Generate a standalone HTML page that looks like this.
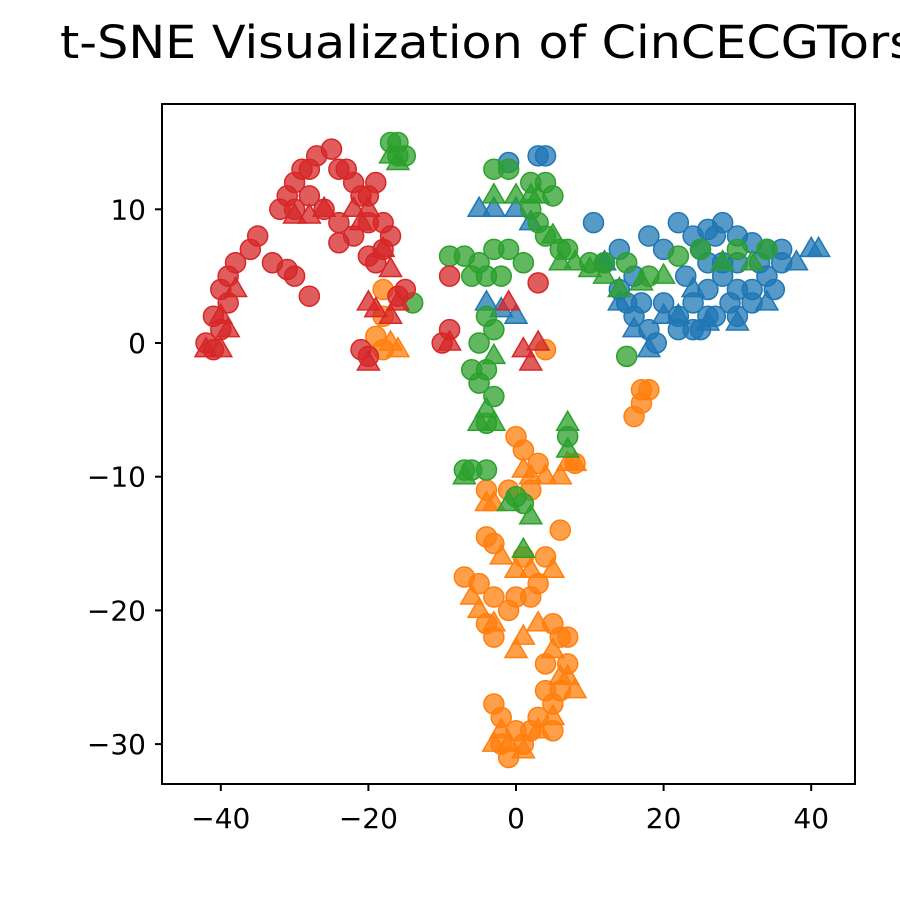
<!DOCTYPE html>
<html><head><meta charset="utf-8"><style>
body{margin:0;background:#fff}
svg{display:block;font-family:"DejaVu Sans","Liberation Sans",sans-serif}
</style></head><body>
<svg id="chart" width="900" height="900" viewBox="0 0 900 900">
<rect width="900" height="900" fill="#fff"/>
<text x="60" y="58" font-size="45" textLength="885" lengthAdjust="spacingAndGlyphs" fill="#000">t-SNE Visualization of CinCECGTorso</text>
<g id="marks"></g>
<rect x="162" y="104" width="693" height="680" fill="none" stroke="#000" stroke-width="2"/>
<g id="axes"></g>
</svg>
<script>
const xTicks=[-40,-20,0,20,40];
const yTicks=[10,0,-10,-20,-30];
const classColors=["#1f77b4","#ff7f0e","#2ca02c","#d62728"];
const blueCircles=[[-1,13.5],[3,14],[4,14],[10.5,9],[18,8],[20,7],[22,9],[24,8],[25,7],[26,8.5],[27,8],[28,9],[30,8],[32,7.5],[34,7],[36,7],[22,2],[24,3],[26,4],[28,5],[30,4],[32,4],[34,5],[25,1],[27,2],[29,3],[14,4],[15,3],[16,2],[18,1],[19,0],[12,6],[14,7],[20,3],[23,5],[26,6],[28,6],[30,6],[33,6],[35,4],[36,6],[22,1],[24,1],[26,2],[30,2],[32,3],[16,5],[17,3]];
const blueTriangles=[[-5,10],[-3,10],[-4,3],[0,10],[2,9],[12,6],[14,3],[16,1],[18,-0.5],[22,2],[26,1.5],[30,1.5],[34,3],[38,6],[40,7],[41,7],[28,6],[24,4],[20,2],[-2,2.5],[0,2]];
const orangeCircles=[[-18,4],[-18,2],[-19,0.5],[-18,-0.5],[4,-0.5],[16,-5.5],[17,-4.5],[17,-3.5],[18,-3.5],[0,-7],[1,-8],[3,-9],[-4,-11],[-1,-11],[2,-11],[-4,-14.5],[-3,-15],[-7,-17.5],[-5,-18],[-3,-19],[-4,-21],[-3,-22],[-1,-20],[0,-19],[2,-19],[3,-18],[1,-16],[4,-16],[6,-14],[5,-21],[6,-22],[7,-24],[6,-26],[5,-27],[3,-28],[2,-29],[1,-30],[-2,-28],[-3,-27],[-2,-30],[-1,-31],[0,-29],[4,-26],[4,-24],[5,-29],[7,-22],[8,-9]];
const orangeTriangles=[[-17,0],[-16,-0.5],[-4,-12],[-3,-12],[1,-9.5],[2,-10],[4,-10],[-2,-16],[0,-17],[2,-17],[5,-17],[-5,-20],[-3,-21],[0,-23],[1,-22],[3,-21],[5,-23],[6,-25],[7,-25],[8,-26],[5,-28],[3,-29],[1,-30.5],[-1,-30],[-2,-29],[-3,-30],[8,-9],[7,-9],[6,-10],[-6,-19]];
const greenCircles=[[-17,15],[-16,15],[-16,14],[-15,14],[-3,13],[-1,13],[2,12],[4,12],[5,11],[2,10],[3,9],[4,8],[6,7],[7,7],[-9,6.5],[-7,6.5],[-5,6],[-3,7],[-1,7],[1,6],[-2,5],[-4,5],[-6,5],[10,6],[12,6],[15,6],[18,5],[22,6.5],[25,7],[30,7],[34,7],[-4,2],[-3,1],[-5,0],[-4,-2],[-5,-3],[-6,-2],[-3,-4],[-4,-6],[-6,-9.5],[-7,-9.5],[-4,-9.5],[0,-11.5],[1,-12],[-14,3],[15,-1],[7,-7]];
const greenTriangles=[[-17,14],[-16,13.5],[-3,11],[0,11],[2,11],[3,11],[5,8],[6,6],[8,6],[10,5.5],[12,5],[14,4],[17,4.5],[20,5],[28,6],[32,6],[-3,-1],[-4,-5],[-5,-6],[-3,-6],[-7,-10],[-1,-12],[2,-13],[1,-15.5],[7,-6],[7,-8]];
const redCircles=[[-41,2],[-40,1],[-39,3],[-40,4],[-39,5],[-38,6],[-36,7],[-35,8],[-32,10],[-31,11],[-30,12],[-29,13],[-28,13],[-27,14],[-25,14.5],[-24,13],[-23,13],[-22,12],[-21,11],[-20,11],[-19,12],[-26,10],[-28,11],[-30,10],[-24,9],[-22,8],[-24,7.5],[-20,6.5],[-18,7],[-17,8],[-33,6],[-31,5.5],[-30,5],[-28,3.5],[-42,0],[-41,-0.5],[-20,-1],[-21,-0.5],[-16,3.5],[-15,4],[-9,5],[-10,0],[-9,1],[3,4.5],[-19,6],[-20,9],[-18,9]];
const redTriangles=[[-42,-0.5],[-40,-0.5],[-39,1],[-40,2],[-38,4],[-26,10],[-28,9.5],[-30,9.5],[-22,10],[-20,10],[-18,7],[-17,5.5],[-21,9],[-19,2.5],[-16,3],[-20,-1.5],[-9,0],[-1,3],[3,0],[2,-1.5],[1,-0.5],[-20,3],[-17,2]];

const NS="http://www.w3.org/2000/svg";
function sx(v){return 516+v*7.38;}
function sy(v){return 343-v*13.37;}
const marks=document.getElementById('marks');
const series=[[blueCircles,blueTriangles],[orangeCircles,orangeTriangles],[greenCircles,greenTriangles],[redCircles,redTriangles]];
series.forEach((pair,ci)=>{
  const col=classColors[ci];
  pair[0].forEach(p=>{
    const c=document.createElementNS(NS,'circle');
    c.setAttribute('cx',sx(p[0]));c.setAttribute('cy',sy(p[1]));c.setAttribute('r',10);
    c.setAttribute('fill',col);c.setAttribute('fill-opacity',0.75);c.setAttribute('stroke',col);c.setAttribute('stroke-width',1.5);
    
    
    marks.appendChild(c);
  });
  pair[1].forEach(p=>{
    const x=sx(p[0]),y=sy(p[1]);
    const t=document.createElementNS(NS,'polygon');
    t.setAttribute('points',`${x},${y-12} ${x-11},${y+7} ${x+11},${y+7}`);
    t.setAttribute('fill',col);t.setAttribute('fill-opacity',0.75);t.setAttribute('stroke',col);t.setAttribute('stroke-width',1.5);
    
    
    marks.appendChild(t);
  });
});
const axes=document.getElementById('axes');
xTicks.forEach(v=>{
  const x=sx(v);
  const l=document.createElementNS(NS,'line');
  l.setAttribute('x1',x);l.setAttribute('x2',x);l.setAttribute('y1',784);l.setAttribute('y2',791);l.setAttribute('stroke','#000');l.setAttribute('stroke-width',2);
  
  
  axes.appendChild(l);
  const t=document.createElementNS(NS,'text');
  t.setAttribute('x',x);t.setAttribute('y',828);t.setAttribute('text-anchor','middle');t.setAttribute('font-size',28);
  t.textContent=v<0?'\u2212'+Math.abs(v):String(v);
  
  
  axes.appendChild(t);
});
yTicks.forEach(v=>{
  const y=sy(v);
  const l=document.createElementNS(NS,'line');
  l.setAttribute('x1',155);l.setAttribute('x2',162);l.setAttribute('y1',y);l.setAttribute('y2',y);l.setAttribute('stroke','#000');l.setAttribute('stroke-width',2);
  
  
  axes.appendChild(l);
  const t=document.createElementNS(NS,'text');
  t.setAttribute('x',146);t.setAttribute('y',y+10);t.setAttribute('text-anchor','end');t.setAttribute('font-size',28);
  t.textContent=v<0?'\u2212'+Math.abs(v):String(v);
  
  
  axes.appendChild(t);
});
</script>
</body></html>
